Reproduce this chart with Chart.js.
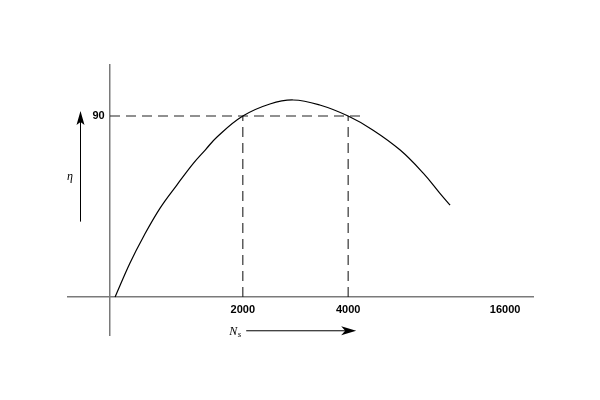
<!DOCTYPE html>
<html><head><meta charset="utf-8">
<script src="https://cdn.jsdelivr.net/npm/chart.js@4"></script>
<style>html,body{margin:0;padding:0;background:#fff}</style>
</head><body>
<canvas id="c" width="600" height="400" style="width:600px;height:400px;display:block"></canvas>
<script>
// Efficiency curve (schematic units on x; eta in % on y)
const curveX = [1.2, 4.7, 7.9, 11.8, 15.8, 19.7, 22.5, 25.3, 31.4, 37.8, 43.3, 49.6, 56.3, 62.2, 68.6, 74.1, 78.0, 80.4];
const curveY = [0, 16.8, 30.0, 44.1, 55.7, 66.5, 73.1, 79.6, 90, 96.0, 98.0, 95.5, 90, 83.0, 73.1, 61.5, 51.6, 45.7];
const xTickValues = [31.4, 56.3, 93.4];
const xTickLabels = ['2000', '4000', '16000'];
const yTickValues = [90];
const yTickLabels = ['90'];
const refLevel = 90;
const refX = [31.4, 56.3];
const refLineEndX = 59.3;

const axisGray = '#7a7a7a';
const dash = [10, 6];
const yMin = -18.9, yMax = 115.4;

const datasets = [
  {
    data: curveX.map((x, i) => ({x, y: curveY[i]})),
    borderColor: '#000', borderWidth: 1.2, pointRadius: 0,
    tension: 0.4, fill: false
  },
  {
    data: [{x: 0, y: refLevel}, {x: refLineEndX, y: refLevel}],
    borderColor: '#222', borderWidth: 1.1, borderDash: dash, pointRadius: 0, fill: false
  }
];
refX.forEach(x => datasets.push({
  data: [{x, y: 0}, {x, y: refLevel}],
  borderColor: '#222', borderWidth: 1.1, borderDash: dash, pointRadius: 0, fill: false
}));

const annotations = {
  id: 'annot',
  afterDraw(chart) {
    const ctx = chart.ctx, xs = chart.scales.x, ys = chart.scales.y;
    ctx.save();
    ctx.fillStyle = '#000'; ctx.strokeStyle = '#000'; ctx.lineWidth = 1;
    // vertical arrow for eta
    const ax = xs.left + 12.5, y0 = ys.getPixelForValue(37.5), y1 = ys.getPixelForValue(92.5);
    ctx.beginPath(); ctx.moveTo(ax, y0); ctx.lineTo(ax, y1 + 10); ctx.stroke();
    ctx.beginPath(); ctx.moveTo(ax, y1); ctx.lineTo(ax - 4, y1 + 14); ctx.lineTo(ax, y1 + 11); ctx.lineTo(ax + 4, y1 + 14); ctx.closePath(); ctx.fill();
    ctx.font = 'italic 12px "Liberation Serif"';
    ctx.textAlign = 'left'; ctx.textBaseline = 'middle';
    ctx.fillText('\u03B7', xs.left - 1, ys.getPixelForValue(60));
    // horizontal arrow for Ns
    const hy = ys.getPixelForValue(-16.8), hx0 = xs.getPixelForValue(32.2), hx1 = xs.getPixelForValue(58.2);
    ctx.beginPath(); ctx.moveTo(hx0, hy); ctx.lineTo(hx1 - 10, hy); ctx.stroke();
    ctx.beginPath(); ctx.moveTo(hx1, hy); ctx.lineTo(hx1 - 15, hy - 4.5); ctx.lineTo(hx1 - 11, hy); ctx.lineTo(hx1 - 15, hy + 4.5); ctx.closePath(); ctx.fill();
    ctx.font = 'italic 12px "Liberation Serif"';
    ctx.textAlign = 'left'; ctx.textBaseline = 'alphabetic';
    ctx.fillText('N', hx0 - 17, hy + 4);
    ctx.font = 'italic 9px "Liberation Serif"';
    ctx.fillText('s', hx0 - 8.5, hy + 6);
    ctx.restore();
  }
};

const tickFont = {family: '"Liberation Sans", Arial, sans-serif', size: 11, weight: 'bold'};

new Chart(document.getElementById('c'), {
  type: 'line',
  data: {datasets},
  plugins: [annotations],
  options: {
    responsive: false, animation: false, devicePixelRatio: 1,
    layout: {padding: {left: 68, right: 67, top: 65, bottom: 65}},
    plugins: {legend: {display: false}, tooltip: {enabled: false}},
    scales: {
      x: {
        type: 'linear', min: -9.93, max: 100, position: {y: 0},
        grid: {display: false, drawTicks: false},
        border: {display: true, color: axisGray, width: 1.5},
        afterBuildTicks: s => { s.ticks = xTickValues.map(v => ({value: v})); },
        ticks: {
          autoSkip: false, maxRotation: 0, padding: 6, color: '#000', font: tickFont,
          callback: v => xTickLabels[xTickValues.indexOf(v)]
        }
      },
      y: {
        type: 'linear', min: yMin, max: yMax, position: {x: 0},
        grid: {display: false, drawTicks: false},
        border: {display: true, color: axisGray, width: 1.5},
        ticks: {display: false}
      },
      yLabels: {
        type: 'linear', axis: 'y', min: yMin, max: yMax, position: {x: -1.25},
        grid: {display: false, drawTicks: false},
        border: {display: false},
        afterBuildTicks: s => { s.ticks = yTickValues.map(v => ({value: v})); },
        ticks: {
          autoSkip: false, padding: 0, color: '#000', font: tickFont,
          callback: v => yTickLabels[yTickValues.indexOf(v)]
        }
      }
    }
  }
});
</script>
</body></html>
